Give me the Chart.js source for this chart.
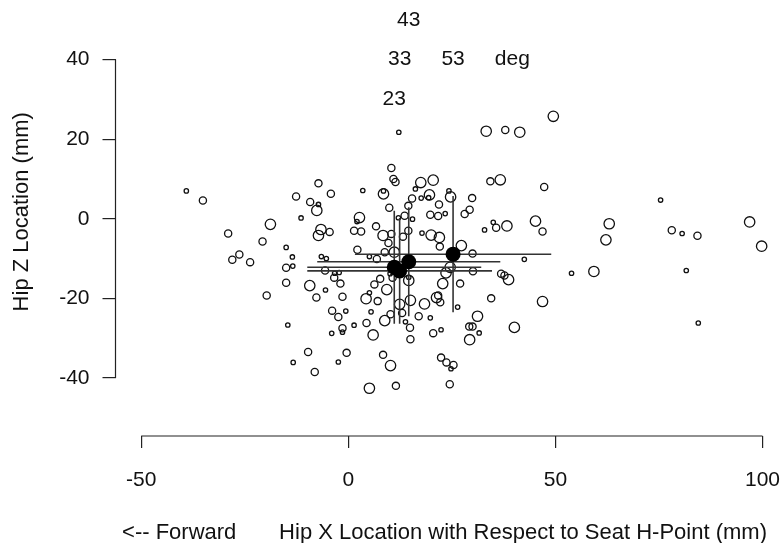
<!DOCTYPE html>
<html>
<head>
<meta charset="utf-8">
<script src="https://cdn.jsdelivr.net/npm/chart.js@4"></script>
<style>body{margin:0;background:#fff}</style>
</head>
<body>
<canvas id="chart" width="781" height="543"></canvas>
<script>
'use strict';

// hip location of each occupant (mm)
const hipX = [
  -39.1, -35.1, -29, -18.8, -20.7, -15, -12.6, -11.4, -9.2, -7.2, -4.2, -7.2, -7.6, -6.6, -7.2, -4.5,
  -13.5, -26.3, -28, -23.7, -6.5, -5.3,
  -15, -13.4, -5.6, -3.4, -3.3, -2.2, -1.9, -15, -9.3, -5.5, -19.7, -7.7, -1.4, -3.9, -2.4, -0.6,
  -14.6, -4, -1.4, -1.4, -9.7, -0.4, -13.3, -2.4, -8.1,
  12.2, 33.3, 37.9, 41.4, 10.4, 10.9, 11.4, 17.5, 20.5, 34.3, 36.7, 3.5, 8.5, 8.5, 16.2, 15.4, 19.6,
  19.4, 17.6, 24.3, 24.7, 29.9, 21.9, 14.5, 9.9, 2.7, 2.1, 12.1, 13.6, 15.5, 19.8, 21.7, 23.4, 28.1,
  29.3, 1.4, 3.1, 6.7, 8.4, 10.4, 14.5, 13.2, 17.8, 20, 22, 22.1, 27.3, 30, 32.9, 35, 35.7, 38.3,
  45.2, 2.2, 5.1, 8.8, 11.1, 42.5, 9.7, 6.9,
  14.6, 14.6, 7.7, 6.3, 9.3, 4.3, 5.1, 7.1, 5.5, 8.8, 10.2, 12.4, 13, 15, 18.4, 17, 14.9, 15, 13.8,
  19.8, 4.4, 1.4, 6, 21.3, 21.7, 22.2, 22.8, 23.6, 24.6, 27, 30.1, 26.4, 20.5, 22.4, 31.2, 29.2, 30,
  31.6, 29.3, 34.5, 36.9, 37.7, 38.7, 40.1, 8.4, 10.2, 22.4, 23.7, 25.4, 24.8, 5.1, 11.5, 24.5,
  10.7, 10.1,
  47.3, 46.9, 63, 62.2, 53.9, 59.3, 46.9, 75.4, 78.1, 80.6, 84.3, 81.6, 84.5, 96.9, 99.8, 49.5
];
const hipZ = [
  7, 4.6, -3.7, -1.4, -5.7, -7.2, 5.6, 0.2, 4.2, 8.9, 6.3, 3.6, 2.1, -2.7, -4.2, -3.3,
  -9.6, -9, -10.3, -10.9, -9.5, -10,
  -12.3, -11.9, -13, -14.8, -13.7, -13.5, -16.3, -16.1, -16.8, -17.9, -19.3, -19.8, -19.6, -23.1, -24.7, -23.2,
  -26.7, -28.8, -27.5, -28.5, -33.5, -33.7, -36.1, -36, -38.5,
  21.75, 22, 22.3, 21.75, 12.75, 10, 9.25, 9.1, 9.7, 9.4, 9.8, 7.1, 6.25, 7, 7.5, 5.1, 6,
  5.3, 5.2, 7, 5.5, 5.2, 3.6, 3.25, 2.75, 0.3, -0.7, 0.25, 0.75, -0.1, 1, 0.7, 1.3, 1.2,
  2.25, -3, -3.2, -1.9, -4.2, -3.8, -3, -4.5, -3.6, -4.1, -4.7, -7, -6.75, -8.75, -2.8, -0.9, -2.25, -1.8,
  -0.6, -7.8, -9.5, -8.4, -8.4, -10.2, -6.1, -10.1,
  -15.5, -14.7, -15.1, -16.5, -17.8, -20.1, -18.6, -20.7, -23.4, -25.6, -24, -21.5, -23.7, -20.5, -21.4, -24.5, -27.4, -30.3, -25.9,
  -24.9, -26.2, -26.75, -29.2, -19.8, -19.3, -21, -16.3, -13.6, -12.2, -16.3, -13.2, -22.2, -28.75, -27.9, -24.5, -27.1, -27.1,
  -28.7, -30.4, -20, -13.8, -14.25, -15.3, -27.3, -34.2, -36.9, -34.9, -36.1, -36.75, -37.7, -42.6, -42, -41.6,
  -14.8, -13.8,
  8, -3.2, -1.25, -5.3, -13.7, -13.25, -20.8, 4.7, -2.9, -3.7, -4.25, -13, -26.2, -0.8, -6.9, 25.75
];
// marker size class: 1 small, 2 medium, 3 large
const sizeClass = [
  1, 2, 2, 3, 2, 1, 2, 1, 2, 2, 2, 1, 3, 3, 3, 2,
  1, 2, 2, 2, 1, 1,
  2, 1, 2, 2, 1, 1, 2, 2, 3, 1, 2, 2, 2, 2, 2, 1,
  1, 1, 2, 1, 2, 2, 1, 1, 2,
  1, 3, 2, 3, 2, 2, 2, 3, 3, 2, 3, 1, 3, 1, 1, 2, 3,
  1, 1, 1, 3, 2, 2, 2, 2, 3, 1, 1, 2, 1, 2, 2, 1, 2,
  2, 2, 2, 2, 3, 2, 2, 2, 1, 3, 3, 2, 3, 2, 1, 1, 2, 3,
  3, 2, 1, 2, 3, 1, 2, 2,
  3, 1, 2, 2, 3, 3, 1, 2, 1, 3, 2, 3, 2, 3, 3, 2, 2, 2, 1,
  1, 2, 1, 3, 3, 2, 2, 3, 3, 3, 2, 2, 1, 2, 1, 3, 2, 2,
  1, 3, 2, 2, 2, 3, 3, 2, 3, 2, 2, 2, 1, 3, 2, 2,
  2, 1,
  2, 2, 3, 3, 1, 3, 3, 1, 2, 1, 2, 1, 1, 3, 3, 3
];

// seat back angle groups: mean and SD of hip location
const angleLabels = ['23', '33', '43', '53'];
const meanX = [11.1, 12.4, 14.6, 25.3];
const meanZ = [-12.2, -13.1, -10.8, -8.9];
const sdX = [21.0, 22.3, 22.1, 23.7];
const sdZ = [14.2, 13.3, 13.7, 14.6];
const labelZ = [30, 40, 50, 40];
const unitLabel = 'deg';
const unitX = 39.6;
const unitZ = 40;

const xTicks = [-50, 0, 50, 100];
const yTicks = [-40, -20, 0, 20, 40];

const FONT = "'Liberation Sans', Arial, Helvetica, sans-serif";
const radius = [0, 2.2, 3.6, 5.2];

const circles = hipX.map((x, i) => ({ x: x, y: hipZ[i] }));
const means = meanX.map((x, i) => ({ x: x, y: meanZ[i] }));

const barSets = [];
meanX.forEach((mx, i) => {
  barSets.push({
    data: [{ x: mx - sdX[i], y: meanZ[i] }, { x: mx + sdX[i], y: meanZ[i] }],
    showLine: true, borderColor: '#333', borderWidth: 1.6, pointRadius: 0, order: 1
  });
  barSets.push({
    data: [{ x: mx, y: meanZ[i] - sdZ[i] }, { x: mx, y: meanZ[i] + sdZ[i] }],
    showLine: true, borderColor: '#333', borderWidth: 1.6, pointRadius: 0, order: 1
  });
});

// R style axes: the line only spans the tick range, plus text labels in data space
const extras = {
  id: 'extras',
  afterDraw(chart) {
    const c = chart.ctx;
    const xs = chart.scales.x, ys = chart.scales.y;
    const area = chart.chartArea;
    c.save();
    c.strokeStyle = '#222';
    c.lineWidth = 1.2;
    c.beginPath();
    c.moveTo(area.left, ys.getPixelForValue(yTicks[0]));
    c.lineTo(area.left, ys.getPixelForValue(yTicks[yTicks.length - 1]));
    c.moveTo(xs.getPixelForValue(xTicks[0]), area.bottom);
    c.lineTo(xs.getPixelForValue(xTicks[xTicks.length - 1]), area.bottom);
    c.stroke();

    c.fillStyle = '#111';
    c.font = '21px ' + FONT;
    c.textAlign = 'center';
    c.textBaseline = 'middle';
    angleLabels.forEach((t, i) => {
      c.fillText(t, xs.getPixelForValue(meanX[i]), ys.getPixelForValue(labelZ[i]));
    });
    c.fillText(unitLabel, xs.getPixelForValue(unitX), ys.getPixelForValue(unitZ));

    // y axis title, a little above the middle of the plot like the original
    c.font = '22px ' + FONT;
    c.translate(22, (area.top + area.bottom) / 2 - 10);
    c.rotate(-Math.PI / 2);
    c.fillText('Hip Z Location (mm)', 0, 0);
    c.restore();
  }
};

new Chart(document.getElementById('chart'), {
  type: 'scatter',
  data: {
    datasets: [
      {
        data: means, backgroundColor: '#000', borderColor: '#000',
        pointRadius: 7.5, borderWidth: 0, order: 0
      },
      ...barSets,
      {
        data: circles, backgroundColor: 'rgba(0,0,0,0)', borderColor: '#111',
        borderWidth: 1.3, order: 2,
        pointRadius: ctx => radius[sizeClass[ctx.dataIndex]]
      }
    ]
  },
  options: {
    responsive: false,
    animation: false,
    layout: { padding: { top: 2, right: 2, left: 0, bottom: 0 } },
    plugins: { legend: { display: false }, tooltip: { enabled: false } },
    scales: {
      x: {
        type: 'linear', min: -56.2, max: 102.66,
        afterBuildTicks: s => { s.ticks = xTicks.map(v => ({ value: v })); },
        afterFit: s => { s.height = 107; s.paddingLeft = 0; s.paddingRight = 0; },
        border: { display: false },
        grid: { drawOnChartArea: false, drawTicks: true, tickLength: 12, color: '#222', lineWidth: 1.2 },
        ticks: { color: '#111', font: { family: FONT, size: 21 }, padding: 20, maxRotation: 0 },
        title: {
          display: true,
          text: '<-- Forward       Hip X Location with Respect to Seat H-Point (mm)',
          color: '#111', font: { family: FONT, size: 22 }, padding: { top: 0, bottom: -3 }
        }
      },
      y: {
        type: 'linear', min: -54.6, max: 53.1,
        afterBuildTicks: s => { s.ticks = yTicks.map(v => ({ value: v })); },
        afterFit: s => { s.width = 115.5; s.paddingTop = 0; s.paddingBottom = 0; },
        border: { display: false },
        grid: { drawOnChartArea: false, drawTicks: true, tickLength: 13, color: '#222', lineWidth: 1.2 },
        ticks: { color: '#111', font: { family: FONT, size: 21 }, padding: 13 },
        title: { display: false }
      }
    }
  },
  plugins: [extras]
});
</script>
</body>
</html>
